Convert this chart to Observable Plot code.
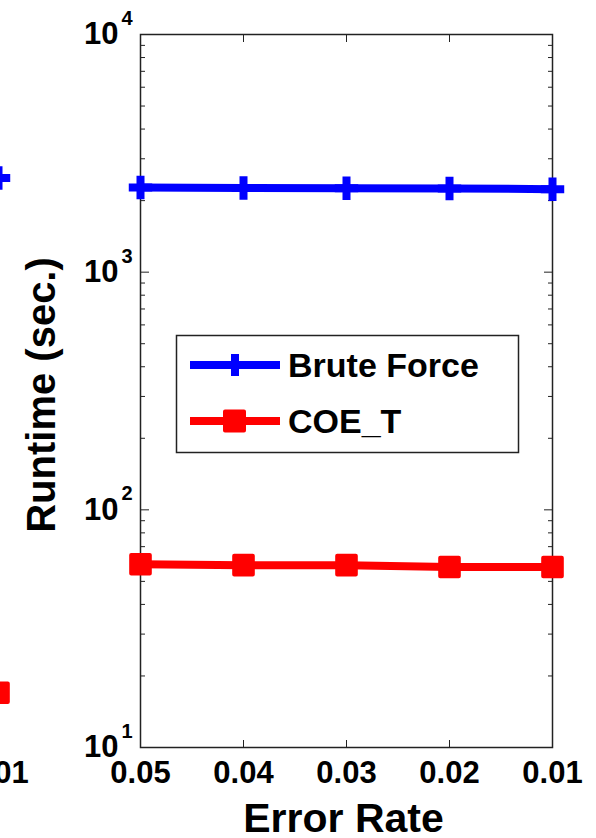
<!DOCTYPE html>
<html><head><meta charset="utf-8">
<script src="https://cdn.jsdelivr.net/npm/d3@7"></script>
<script src="https://cdn.jsdelivr.net/npm/@observablehq/plot@0.6"></script>
<style>
html,body{margin:0;padding:0;background:#fff;}
#wrap{position:relative;width:596px;height:838px;overflow:hidden;font-family:"Liberation Sans",Arial,sans-serif;}
#left{position:absolute;top:0;left:-158px;}
#main{position:absolute;top:0;left:0;}
#legend{position:absolute;top:0;left:0;}
</style></head><body>
<div id="wrap"><div id="main"></div><div id="left"></div><div id="legend"></div></div>
<script>
// ---- data ----
const errorRates = [0.05, 0.04, 0.03, 0.02, 0.01];
const bruteForce = [2270, 2260, 2255, 2250, 2235];
const coeT = [59, 58.5, 58.5, 57.5, 57.5];
const seriesNames = ["Brute Force", "COE_T"];
const seriesColors = ["#0000ff", "#ff0000"];
const yMajorTicks = [10, 100, 1000, 10000];
const yExponents = ["1", "2", "3", "4"];
const xLabel = "Error Rate";
const yLabel = "Runtime (sec.)";
// fragment of the neighbouring panel (cut off at the left edge)
const leftRates = [0.01];
const leftBruteForce = [2490];
const leftCoeT = [17];

const FONT = "Liberation Sans, Arial, sans-serif";
const yMinorTicks = [10, 100, 1000].flatMap(d => d3.range(2, 10).map(k => k * d));

const rows = errorRates.flatMap((e, i) => [
  {rate: e, series: seriesNames[0], runtime: bruteForce[i]},
  {rate: e, series: seriesNames[1], runtime: coeT[i]}
]);
const bf = rows.filter(d => d.series === seriesNames[0]);
const ct = rows.filter(d => d.series === seriesNames[1]);

const common = {
  height: 838,
  marginTop: 34, marginBottom: 91, marginRight: 44,
  x: {domain: [0.05, 0.01], label: null},
  y: {type: "log", domain: [10, 10000], label: null},
  style: {fontFamily: FONT, background: "transparent", overflow: "visible", color: "#000"}
};
const tickOpts = {fill: "none", stroke: "#222", label: null};
const PLUS_R = 7.6;

const main = Plot.plot({
  ...common,
  width: 596,
  marginLeft: 140,
  marks: [
    Plot.frame({stroke: "#222", strokeWidth: 1.5}),
    // inward ticks
    Plot.axisX(errorRates, {anchor: "bottom", tickSize: -7, ...tickOpts}),
    Plot.axisX(errorRates, {anchor: "top", tickSize: -7, ...tickOpts}),
    Plot.axisY(yMinorTicks, {anchor: "left", tickSize: -5, ...tickOpts}),
    Plot.axisY(yMinorTicks, {anchor: "right", tickSize: -5, ...tickOpts}),
    Plot.axisY(yMajorTicks, {anchor: "left", tickSize: -9, ...tickOpts}),
    Plot.axisY(yMajorTicks, {anchor: "right", tickSize: -9, ...tickOpts}),
    // x tick labels
    Plot.axisX(errorRates, {anchor: "bottom", tickSize: 0, tickPadding: 13, tickFormat: d3.format(".2f"),
      fontSize: 31, fontWeight: "bold", fill: "#000", label: null}),
    // y tick labels 10^n
    Plot.text(yMajorTicks, {y: d => d, text: () => "10", frameAnchor: "left", textAnchor: "end",
      lineAnchor: "middle", dx: -22, fontSize: 31, fontWeight: "bold", fill: "#000"}),
    Plot.text(yMajorTicks, {y: d => d, text: (d, i) => yExponents[i], frameAnchor: "left", textAnchor: "start",
      lineAnchor: "middle", dx: -19, dy: -16, fontSize: 20, fontWeight: "bold", fill: "#000"}),
    // axis labels
    Plot.text([xLabel], {frameAnchor: "bottom", textAnchor: "middle", lineAnchor: "bottom", dx: -3, dy: 84,
      fontSize: 41, fontWeight: "bold", fill: "#000"}),
    Plot.text([yLabel], {frameAnchor: "left", textAnchor: "middle", rotate: -90, lineAnchor: "middle", dx: -98, dy: 4,
      fontSize: 40, fontWeight: "bold", fill: "#000"}),
    // series
    Plot.line(bf, {x: "rate", y: "runtime", stroke: seriesColors[0], strokeWidth: 8}),
    Plot.dot(bf, {x: "rate", y: "runtime", symbol: "plus", r: PLUS_R, stroke: seriesColors[0], strokeWidth: 8}),
    Plot.line(ct, {x: "rate", y: "runtime", stroke: seriesColors[1], strokeWidth: 8}),
    Plot.dot(ct, {x: "rate", y: "runtime", symbol: "square", r: 10.5, fill: seriesColors[1],
      stroke: seriesColors[1], strokeWidth: 4, strokeLinejoin: "round"})
  ]
});
document.getElementById("main").appendChild(main);

// neighbouring panel fragment
const leftRows = leftRates.flatMap((e, i) => [
  {rate: e, series: seriesNames[0], runtime: leftBruteForce[i]},
  {rate: e, series: seriesNames[1], runtime: leftCoeT[i]}
]);
const left = Plot.plot({
  ...common,
  width: 200,
  marginLeft: 20,
  marks: [
    Plot.axisX(leftRates, {anchor: "bottom", tickSize: 0, tickPadding: 13, tickFormat: d3.format(".2f"),
      fontSize: 31, fontWeight: "bold", fill: "#000", label: null}),
    Plot.dot(leftRows.filter(d => d.series === seriesNames[0]), {x: "rate", y: "runtime", symbol: "plus", r: PLUS_R,
      stroke: seriesColors[0], strokeWidth: 8}),
    Plot.dot(leftRows.filter(d => d.series === seriesNames[1]), {x: "rate", y: "runtime", symbol: "square", r: 10.5,
      fill: seriesColors[1], stroke: seriesColors[1], strokeWidth: 4, strokeLinejoin: "round"})
  ]
});
document.getElementById("left").appendChild(left);

// legend
const ns = "http://www.w3.org/2000/svg";
const lg = d3.select("#legend").append("svg").attr("xmlns", ns).attr("width", 596).attr("height", 838)
  .style("font-family", FONT);
lg.append("rect").attr("x", 176.5).attr("y", 335.5).attr("width", 342).attr("height", 117)
  .attr("fill", "#fff").attr("stroke", "#222").attr("stroke-width", 1.5);
const legY = [365, 421];
seriesNames.forEach((name, i) => {
  const y = legY[i];
  lg.append("line").attr("x1", 190).attr("x2", 280).attr("y1", y).attr("y2", y)
    .attr("stroke", seriesColors[i]).attr("stroke-width", 8);
  if (i === 0) {
    lg.append("line").attr("x1", 235).attr("x2", 235).attr("y1", y - 11).attr("y2", y + 11)
      .attr("stroke", seriesColors[i]).attr("stroke-width", 8);
  } else {
    lg.append("rect").attr("x", 225).attr("y", y - 9.5).attr("width", 19).attr("height", 19)
      .attr("fill", seriesColors[i]).attr("stroke", seriesColors[i]).attr("stroke-width", 4)
      .attr("stroke-linejoin", "round");
  }
  lg.append("text").attr("x", 288).attr("y", y + 12).attr("font-size", 34).attr("font-weight", "bold")
    .attr("fill", "#000").text(name);
});
</script>
</body></html>
